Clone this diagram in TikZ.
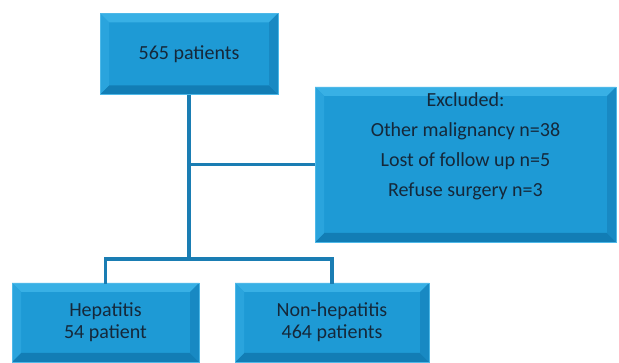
\documentclass[tikz,border=0pt]{standalone}
\usepackage{fontspec}
\setmainfont{Carlito}
\usetikzlibrary{calc}
\definecolor{boxface}{HTML}{1E9AD5}
\definecolor{boxrim}{HTML}{4DB8E8}
\definecolor{bevtop}{HTML}{38B0E5}
\definecolor{bevleft}{HTML}{2AA4DD}
\definecolor{bevright}{HTML}{1889C3}
\definecolor{bevbot}{HTML}{127DB5}
\definecolor{linkblue}{HTML}{1A7DB3}
\definecolor{txtdark}{HTML}{15283A}
\def\bevw{9pt}
\tikzstyle{flowbox}=[rectangle,draw=boxrim,line width=0.8pt,fill=boxface,text=txtdark,align=center,inner sep=0pt,
  path picture={
    \path (path picture bounding box.south west) coordinate (pa) (path picture bounding box.north east) coordinate (pb);
    \fill[bevtop] (pa|-pb) -- (pb) -- ($(pb)+(-\bevw,-\bevw)$) -- ($(pa|-pb)+(\bevw,-\bevw)$) -- cycle;
    \fill[bevbot] (pa) -- (pb|-pa) -- ($(pb|-pa)+(-\bevw,\bevw)$) -- ($(pa)+(\bevw,\bevw)$) -- cycle;
    \fill[bevleft] (pa) -- (pa|-pb) -- ($(pa|-pb)+(\bevw,-\bevw)$) -- ($(pa)+(\bevw,\bevw)$) -- cycle;
    \fill[bevright] (pb|-pa) -- (pb) -- ($(pb)+(-\bevw,-\bevw)$) -- ($(pb|-pa)+(-\bevw,\bevw)$) -- cycle;
  }]
\tikzstyle{link}=[draw=linkblue,line width=3.6pt]

\begin{document}
\begin{tikzpicture}[x=1pt,y=1pt]
		\useasboundingbox (0,0) rectangle (619,-363);
		\node[flowbox,minimum width=178pt,minimum height=81pt,font=\fontsize{20}{24}\selectfont] (total) at (189,-54) {565 patients};
		\node[flowbox,minimum width=301pt,minimum height=155pt,font=\fontsize{20}{30}\selectfont] (excluded) at (465.5,-164.5) {Excluded:\\Other malignancy n=38\\Lost of follow up n=5\\Refuse surgery n=3\\\strut};
		\node[flowbox,minimum width=187pt,minimum height=79pt,font=\fontsize{20}{22}\selectfont] (hep) at (105.5,-322.5) {Hepatitis\\54 patient};
		\node[flowbox,minimum width=194pt,minimum height=79pt,font=\fontsize{20}{22}\selectfont] (nonhep) at (332,-322.5) {Non-hepatitis\\464 patients};

		\coordinate (fork) at (189,-259);
		\draw[link] (total.south) -- (fork);
		\draw[link] (excluded.west) -- (excluded.west -| total.south);
		\draw[link,line cap=rect] (fork) -| (hep.north);
		\draw[link,line cap=rect] (fork) -| (nonhep.north);
	\end{tikzpicture}
\end{document}
